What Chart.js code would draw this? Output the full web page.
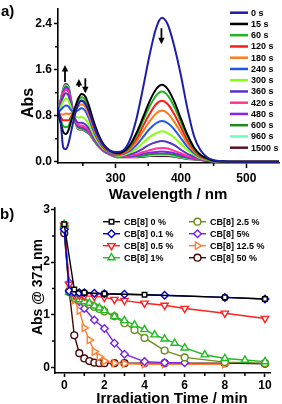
<!DOCTYPE html>
<html>
<head>
<meta charset="utf-8">
<script src="https://cdn.jsdelivr.net/npm/chart.js@4.4.1/dist/chart.umd.min.js"></script>
<style>
  body { margin: 0; background: #fff; }
  #wrap { position: relative; width: 282px; height: 404px; overflow: hidden; font-family: "Liberation Sans", Arial, sans-serif; font-weight: bold; color: #000; }
  canvas { position: absolute; left: 0; }
  #specChart { top: 0; }
  #kinChart { top: 198px; }
  .lbl { position: absolute; font-size: 15px; line-height: 1; white-space: nowrap; }
  .ttl { position: absolute; line-height: 1; white-space: nowrap; transform: translate(-50%, -50%); }
  .rot { transform: translate(-50%, -50%) rotate(-90deg); }
</style>
</head>
<body>
<div id="wrap">
  <canvas id="specChart" width="282" height="205"></canvas>
  <canvas id="kinChart" width="282" height="206"></canvas>
  <div class="lbl" style="left:1px;top:3px">a)</div>
  <div class="lbl" style="left:0px;top:206px">b)</div>
  <div class="ttl" style="left:168px;top:193px;font-size:15px">Wavelength / nm</div>
  <div class="ttl rot" style="left:28px;top:103px;font-size:16px">Abs</div>
  <div class="ttl" style="left:172px;top:397px;font-size:15px">Irradiation Time / min</div>
  <div class="ttl rot" style="left:37px;top:287px;font-size:14px">Abs @ 371 nm</div>
</div>
<script>
// ---- panel a: spectra ----
const wavelengths = [212, 216, 220, 224, 228, 232, 237, 243, 248, 254, 260, 266, 273, 282, 292, 302, 312, 322, 332, 342, 352, 362, 371, 380, 390, 400, 410, 420, 430, 440, 450, 465, 490, 550];
const abs0s    = [0.95, 0.7, 0.25, 0.22, 0.32, 0.52, 0.78, 1.0, 1.06, 1.0, 0.86, 0.66, 0.46, 0.28, 0.19, 0.17, 0.2, 0.38, 0.75, 1.28, 1.85, 2.32, 2.5, 2.38, 2.0, 1.5, 0.92, 0.45, 0.2, 0.08, 0.03, 0.01, 0, 0];
const abs15s   = [0.85, 0.68, 0.52, 0.48, 0.55, 0.7, 0.9, 1.1, 1.18, 1.13, 0.95, 0.72, 0.5, 0.3, 0.19, 0.15, 0.18, 0.29, 0.5, 0.77, 1.05, 1.26, 1.34, 1.26, 1.04, 0.75, 0.47, 0.25, 0.12, 0.06, 0.02, 0.005, 0, 0];
const abs60s   = [0.85, 0.74, 0.62, 0.6, 0.62, 0.74, 0.9, 1.06, 1.12, 1.07, 0.9, 0.68, 0.47, 0.29, 0.18, 0.14, 0.18, 0.27, 0.46, 0.71, 0.96, 1.15, 1.22, 1.15, 0.95, 0.69, 0.43, 0.23, 0.12, 0.05, 0.02, 0.005, 0, 0];
const abs120s  = [0.84, 0.78, 0.72, 0.72, 0.72, 0.78, 0.9, 1.02, 1.07, 1.02, 0.85, 0.64, 0.44, 0.27, 0.18, 0.13, 0.16, 0.25, 0.4, 0.62, 0.83, 1.0, 1.06, 1.0, 0.82, 0.6, 0.37, 0.21, 0.1, 0.05, 0.02, 0.005, 0, 0];
const abs180s  = [0.84, 0.82, 0.82, 0.84, 0.83, 0.84, 0.88, 0.96, 1.0, 0.95, 0.79, 0.6, 0.41, 0.26, 0.17, 0.12, 0.15, 0.22, 0.35, 0.53, 0.7, 0.84, 0.89, 0.84, 0.69, 0.51, 0.32, 0.18, 0.09, 0.04, 0.02, 0.005, 0, 0];
const abs240s  = [0.85, 0.9, 0.95, 0.98, 0.96, 0.9, 0.86, 0.9, 0.93, 0.88, 0.73, 0.55, 0.38, 0.24, 0.16, 0.11, 0.14, 0.19, 0.29, 0.43, 0.57, 0.67, 0.71, 0.67, 0.56, 0.41, 0.26, 0.15, 0.08, 0.04, 0.015, 0.005, 0, 0];
const abs300s  = [0.85, 0.95, 1.05, 1.1, 1.06, 0.94, 0.8, 0.77, 0.78, 0.74, 0.63, 0.48, 0.34, 0.22, 0.16, 0.1, 0.12, 0.16, 0.23, 0.33, 0.43, 0.5, 0.53, 0.5, 0.42, 0.31, 0.2, 0.12, 0.06, 0.03, 0.01, 0, 0, 0];
const abs360s  = [0.86, 1.0, 1.13, 1.19, 1.15, 0.98, 0.78, 0.68, 0.68, 0.65, 0.57, 0.44, 0.32, 0.21, 0.15, 0.1, 0.11, 0.13, 0.17, 0.23, 0.3, 0.34, 0.36, 0.34, 0.29, 0.21, 0.14, 0.09, 0.05, 0.02, 0.01, 0, 0, 0];
const abs420s  = [0.86, 1.03, 1.18, 1.25, 1.21, 1.02, 0.77, 0.64, 0.63, 0.6, 0.53, 0.42, 0.31, 0.2, 0.14, 0.09, 0.1, 0.11, 0.13, 0.17, 0.2, 0.23, 0.24, 0.23, 0.19, 0.15, 0.1, 0.07, 0.04, 0.02, 0.01, 0, 0, 0];
const abs480s  = [0.86, 1.04, 1.21, 1.29, 1.25, 1.05, 0.76, 0.61, 0.6, 0.57, 0.51, 0.41, 0.3, 0.19, 0.13, 0.09, 0.09, 0.1, 0.11, 0.14, 0.16, 0.17, 0.18, 0.17, 0.15, 0.12, 0.08, 0.06, 0.04, 0.02, 0.01, 0, 0, 0];
const abs600s  = [0.86, 1.05, 1.23, 1.31, 1.27, 1.06, 0.75, 0.6, 0.58, 0.55, 0.5, 0.4, 0.29, 0.19, 0.13, 0.09, 0.09, 0.09, 0.1, 0.11, 0.13, 0.14, 0.14, 0.14, 0.12, 0.09, 0.07, 0.05, 0.03, 0.02, 0.01, 0, 0, 0];
const abs960s  = [0.86, 1.06, 1.25, 1.33, 1.29, 1.07, 0.75, 0.58, 0.57, 0.54, 0.49, 0.39, 0.28, 0.18, 0.12, 0.08, 0.08, 0.09, 0.09, 0.1, 0.11, 0.12, 0.12, 0.12, 0.1, 0.08, 0.06, 0.05, 0.03, 0.02, 0.01, 0, 0, 0];
const abs1500s = [0.86, 1.07, 1.27, 1.35, 1.31, 1.08, 0.75, 0.57, 0.56, 0.53, 0.48, 0.38, 0.28, 0.18, 0.12, 0.08, 0.08, 0.08, 0.08, 0.09, 0.1, 0.1, 0.1, 0.1, 0.09, 0.07, 0.05, 0.04, 0.03, 0.02, 0.01, 0, 0, 0];

const specLabels = ['0 s', '15 s', '60 s', '120 s', '180 s', '240 s', '300 s', '360 s', '420 s', '480 s', '600 s', '960 s', '1500 s'];
const specSeries = [abs0s, abs15s, abs60s, abs120s, abs180s, abs240s, abs300s, abs360s, abs420s, abs480s, abs600s, abs960s, abs1500s];
const specColors = ['#1c1cae', '#000000', '#1fb51f', '#ff1a1a', '#ff7a1a', '#2255ee', '#88ff11', '#5533cc', '#ff3399', '#8822ee', '#1e8c1e', '#66ffbb', '#5c1224'];

const specXMajor = [300, 400, 500];
const specXMinor = [250, 350, 450];
const specYMajor = [0, 0.8, 1.6, 2.4];
const specYMinor = [0.4, 1.2, 2.0];

// arrows (wavelength, from abs, to abs)
const arrowX = [222.7, 244, 253.8, 370.2];
const arrowFrom = [1.385, 1.3, 1.45, 2.32];
const arrowTo = [1.68, 1.44, 1.19, 2.04];

// ---- panel b: kinetics ----
const kinLabels = ['CB[8] 0 %', 'CB[8] 0.1 %', 'CB[8] 0.5 %', 'CB[8] 1%', 'CB[8] 2.5 %', 'CB[8] 5%', 'CB[8] 12.5 %', 'CB[8] 50 %'];
const kinTime0 = [0, 0.5, 1, 2, 4, 8, 10];
const kinAbs0 = [2.72, 1.48, 1.42, 1.4, 1.38, 1.33, 1.3];
const kinTime01 = [0, 0.25, 0.5, 0.75, 1, 1.5, 2, 3, 5, 8, 10];
const kinAbs01 = [2.62, 1.45, 1.43, 1.42, 1.42, 1.41, 1.4, 1.39, 1.37, 1.33, 1.3];
const kinTime05 = [0, 0.25, 0.5, 0.75, 1, 1.5, 2, 2.5, 3, 4, 5, 6, 8, 10];
const kinAbs05 = [2.7, 1.58, 1.38, 1.37, 1.36, 1.35, 1.33, 1.29, 1.27, 1.22, 1.18, 1.12, 1.03, 0.93];
const kinTime1 = [0, 0.25, 0.5, 0.75, 1, 1.25, 1.5, 1.75, 2, 2.5, 3, 3.5, 4, 4.5, 5, 5.5, 6, 7, 8, 9, 10];
const kinAbs1 = [2.72, 1.43, 1.34, 1.29, 1.25, 1.22, 1.17, 1.13, 1.08, 0.97, 0.89, 0.81, 0.72, 0.62, 0.54, 0.46, 0.37, 0.24, 0.17, 0.14, 0.11];
const kinTime25 = [0, 0.25, 0.5, 0.75, 1, 1.25, 1.5, 1.75, 2, 2.5, 3, 3.5, 4, 5, 6, 8, 10];
const kinAbs25 = [2.7, 1.43, 1.32, 1.28, 1.24, 1.2, 1.15, 1.11, 1.06, 0.97, 0.84, 0.71, 0.56, 0.32, 0.19, 0.1, 0.08];
const kinTime5 = [0, 0.25, 0.5, 0.75, 1, 1.5, 2, 2.5, 3, 4, 5, 6];
const kinAbs5 = [2.65, 1.61, 1.35, 1.25, 1.12, 0.9, 0.74, 0.46, 0.25, 0.11, 0.09, 0.09];
const kinTime125 = [0, 0.25, 0.5, 0.75, 1, 1.25, 1.5, 1.75, 2, 2.5, 3, 4, 5, 8];
const kinAbs125 = [2.7, 1.5, 1.28, 1.08, 0.75, 0.52, 0.3, 0.2, 0.12, 0.08, 0.07, 0.06, 0.06, 0.06];
const kinTime50 = [0, 0.25, 0.5, 0.75, 1, 1.25, 1.5, 1.75, 2, 2.5, 3, 4, 5, 8, 10];
const kinAbs50 = [2.55, 1.45, 0.61, 0.27, 0.17, 0.12, 0.09, 0.08, 0.08, 0.08, 0.08, 0.08, 0.08, 0.08, 0.07];

const kinTimes = [kinTime0, kinTime01, kinTime05, kinTime1, kinTime25, kinTime5, kinTime125, kinTime50];
const kinValues = [kinAbs0, kinAbs01, kinAbs05, kinAbs1, kinAbs25, kinAbs5, kinAbs125, kinAbs50];
const kinColors = ['#000000', '#0000cc', '#ff2020', '#22bb22', '#6a8f1c', '#7722ee', '#ff8033', '#4a0808'];
const kinMarkers = ['rect', 'rectRot', 'triangle', 'triangle', 'circle', 'rectRot', 'triangle', 'circle'];
const kinRotation = [0, 0, 180, 0, 0, 0, 90, 0];
const kinRadius = [3.2, 3.8, 4.2, 4.2, 3.4, 3.8, 4.2, 3.4];

const kinXMajor = [0, 2, 4, 6, 8, 10];
const kinXMinor = [1, 3, 5, 7, 9];
const kinYMajor = [0, 1, 2, 3];
const kinYMinor = [0.5, 1.5, 2.5];

Chart.defaults.font.family = '"Liberation Sans", Arial, sans-serif';
Chart.defaults.font.weight = 'bold';
Chart.defaults.color = '#000';

const minorTicks = {
  id: 'minorTicks',
  afterDraw(chart, args, opts) {
    const { ctx, chartArea } = chart;
    const xs = chart.scales.x, ys = chart.scales.y;
    ctx.save();
    ctx.strokeStyle = '#000';
    ctx.lineWidth = 1.5;
    ctx.beginPath();
    opts.x.forEach(v => {
      const px = xs.getPixelForValue(v);
      ctx.moveTo(px, chartArea.bottom);
      ctx.lineTo(px, chartArea.bottom + opts.length);
    });
    opts.y.forEach(v => {
      const py = ys.getPixelForValue(v);
      ctx.moveTo(chartArea.left, py);
      ctx.lineTo(chartArea.left - opts.length, py);
    });
    ctx.stroke();
    ctx.restore();
  }
};

const arrows = {
  id: 'arrows',
  afterDatasetsDraw(chart, args, opts) {
    if (!opts.x) return;
    const { ctx } = chart;
    const xs = chart.scales.x, ys = chart.scales.y;
    ctx.save();
    ctx.strokeStyle = '#000';
    ctx.fillStyle = '#000';
    ctx.lineWidth = 1.8;
    opts.x.forEach((v, i) => {
      const px = xs.getPixelForValue(v);
      const p1 = ys.getPixelForValue(opts.from[i]);
      const p2 = ys.getPixelForValue(opts.to[i]);
      const dir = p2 > p1 ? 1 : -1;
      ctx.beginPath();
      ctx.moveTo(px, p1);
      ctx.lineTo(px, p2 - dir * 5);
      ctx.stroke();
      ctx.beginPath();
      ctx.moveTo(px - 3.2, p2 - dir * 6.5);
      ctx.lineTo(px + 3.2, p2 - dir * 6.5);
      ctx.lineTo(px, p2);
      ctx.closePath();
      ctx.fill();
    });
    ctx.restore();
  }
};

// legend drawn inside the plot, laid out in columns
const insideLegend = {
  id: 'insideLegend',
  afterDraw(chart, args, opts) {
    const { ctx } = chart;
    ctx.save();
    ctx.font = opts.font;
    ctx.textBaseline = 'middle';
    chart.data.datasets.forEach((ds, i) => {
      const col = Math.floor(i / opts.perColumn);
      const row = i % opts.perColumn;
      const x = opts.left + col * opts.colStep;
      const y = opts.top + row * opts.rowStep;
      ctx.strokeStyle = ds.borderColor;
      ctx.lineWidth = opts.lineWidth;
      ctx.beginPath();
      ctx.moveTo(x, y);
      ctx.lineTo(x + opts.lineLen, y);
      ctx.stroke();
      if (ds.pointRadius > 0 && Chart.helpers && Chart.helpers.drawPoint) {
        ctx.fillStyle = '#fff';
        ctx.lineWidth = ds.pointBorderWidth;
        Chart.helpers.drawPoint(ctx, {
          pointStyle: ds.pointStyle,
          rotation: ds.pointRotation || 0,
          radius: ds.pointRadius,
          borderWidth: ds.pointBorderWidth
        }, x + opts.lineLen / 2, y);
      }
      ctx.fillStyle = '#000';
      ctx.fillText(ds.label, x + opts.lineLen + opts.textGap, y + 0.5);
    });
    ctx.restore();
  }
};

function axis(min, max, major, fmt, size, tickLen, pad) {
  return {
    type: 'linear',
    min: min,
    max: max,
    afterBuildTicks: s => { s.ticks = major.map(v => ({ value: v })); },
    afterFit: s => { if (s.isHorizontal()) s.height = size; else s.width = size; },
    ticks: { color: '#000', font: { size: 12, weight: 'bold' }, padding: pad, maxRotation: 0, autoSkip: false, callback: fmt },
    grid: { drawOnChartArea: false, drawTicks: true, tickLength: tickLen, tickWidth: 1.5, tickColor: '#000' },
    border: { display: true, color: '#000', width: 1.6 }
  };
}

new Chart(document.getElementById('specChart'), {
  type: 'line',
  data: {
    datasets: specSeries.map((arr, i) => ({
      label: specLabels[i],
      data: wavelengths.map((w, j) => ({ x: w, y: arr[j] })),
      borderColor: specColors[i],
      borderWidth: 2,
      pointRadius: 0,
      cubicInterpolationMode: 'monotone'
    }))
  },
  options: {
    responsive: false,
    animation: false,
    devicePixelRatio: 1,
    layout: { padding: { left: 0, right: 3, top: 2, bottom: 0 } },
    scales: {
      x: axis(212, 550, specXMajor, v => String(v), 42, 5, 3),
      y: axis(-0.02, 2.65, specYMajor, v => v.toFixed(1), 58, 4, 2)
    },
    plugins: {
      legend: { display: false },
      tooltip: { enabled: false },
      minorTicks: { x: specXMinor, y: specYMinor, length: 3 },
      arrows: { x: arrowX, from: arrowFrom, to: arrowTo },
      insideLegend: { font: 'bold 9px "Liberation Sans", Arial, sans-serif', left: 230, top: 12.7, rowStep: 11.25, colStep: 0, perColumn: 13, lineLen: 18, lineWidth: 2.5, textGap: 3 }
    }
  },
  plugins: [minorTicks, arrows, insideLegend]
});

new Chart(document.getElementById('kinChart'), {
  type: 'line',
  data: {
    datasets: kinValues.map((arr, i) => ({
      label: kinLabels[i],
      data: kinTimes[i].map((t, j) => ({ x: t, y: arr[j] })),
      borderColor: kinColors[i],
      borderWidth: 1.4,
      pointStyle: kinMarkers[i],
      pointRotation: kinRotation[i],
      pointRadius: kinRadius[i],
      pointBorderWidth: 1.4,
      pointBackgroundColor: '#fff',
      pointBorderColor: kinColors[i],
      tension: 0
    }))
  },
  options: {
    responsive: false,
    animation: false,
    devicePixelRatio: 1,
    layout: { padding: { left: 0, right: 12, top: 10, bottom: 0 } },
    scales: {
      x: axis(-0.46, 10.25, kinXMajor, v => String(v), 31, 4, 1),
      y: axis(-0.107, 3.03, kinYMajor, v => String(v), 55, 4, 1)
    },
    plugins: {
      legend: { display: false },
      tooltip: { enabled: false },
      minorTicks: { x: kinXMinor, y: kinYMinor, length: 3 },
      insideLegend: { font: 'bold 9px "Liberation Sans", Arial, sans-serif', left: 103, top: 23.7, rowStep: 12, colStep: 86, perColumn: 4, lineLen: 17, lineWidth: 1.4, textGap: 4 }
    }
  },
  plugins: [minorTicks, insideLegend]
});
</script>
</body>
</html>
